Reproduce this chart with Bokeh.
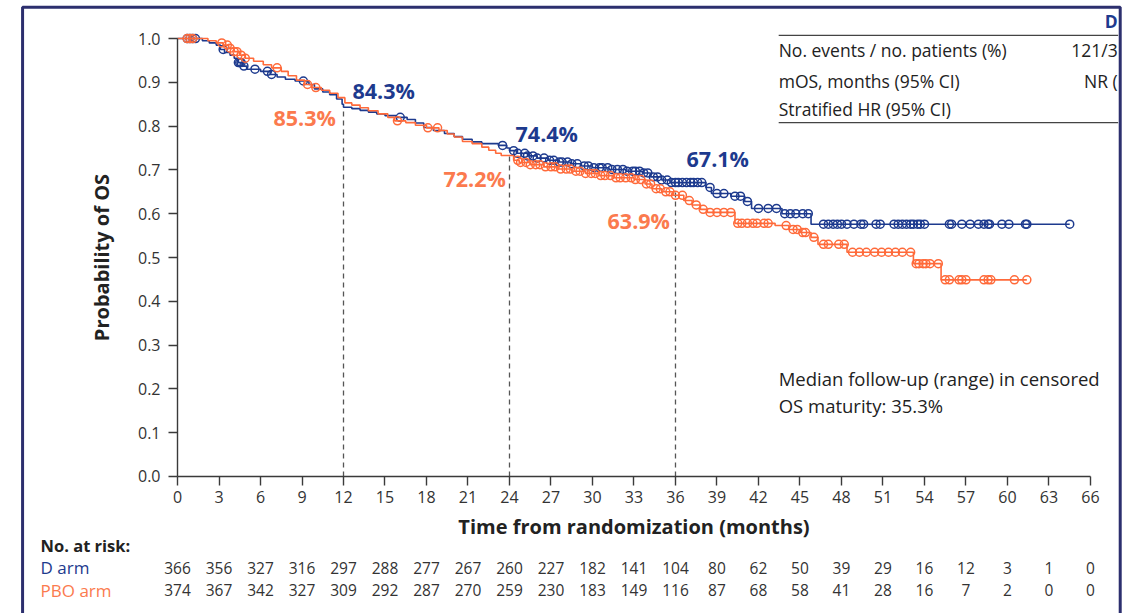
import numpy as np
from bokeh.plotting import figure
from bokeh.models import (ColumnDataSource, LabelSet, Label, FixedTicker,
                          PrintfTickFormatter, Arrow, BoxAnnotation)
from bokeh.core.properties import value
from bokeh.embed import file_html
from bokeh.resources import INLINE

# ---------------- data ----------------
d_step_t = [0, 1.8, 2.3, 2.8, 3.1, 3.4, 3.8, 4.1, 4.4, 4.7, 5.0, 6.0, 6.7, 7.2, 7.8, 8.5, 9.5, 9.9, 10.5, 11.0,
            11.5, 11.9, 12.0, 12.6, 13.2, 13.8, 14.4, 15.0, 15.8, 16.6, 17.2, 17.8, 18.5, 19.3, 20.0, 20.6, 21.3,
            22.0, 23.2, 23.8, 24.0, 24.5, 25.3, 26.0, 26.8, 27.6, 28.4, 29.2, 30.0, 31.2, 32.4, 33.6, 34.2, 35.0,
            35.6, 38.2, 38.6, 40.0, 41.0, 41.5, 43.7, 45.8]
d_step_s = [1.0, 0.995, 0.99, 0.985, 0.975, 0.968, 0.962, 0.955, 0.945, 0.937, 0.93, 0.925, 0.918, 0.912, 0.907,
            0.903, 0.895, 0.885, 0.878, 0.872, 0.862, 0.85, 0.843, 0.840, 0.836, 0.832, 0.828, 0.824, 0.820, 0.815,
            0.807, 0.797, 0.790, 0.783, 0.776, 0.770, 0.764, 0.760, 0.756, 0.750, 0.744, 0.738, 0.732, 0.727,
            0.722, 0.718, 0.714, 0.709, 0.705, 0.701, 0.697, 0.693, 0.684, 0.677, 0.671, 0.660, 0.646, 0.640,
            0.628, 0.612, 0.600, 0.576]
d_cens_t = [0.7, 0.9, 1.1, 1.3, 3.3, 4.4, 4.5, 4.6, 4.8, 5.6, 6.5, 6.8, 9.1, 16.1, 23.5, 24.3, 24.6, 25.1, 25.3,
            25.7, 26.0, 26.5, 26.9, 27.2, 27.6, 27.8, 28.2, 28.5, 28.9, 29.4, 29.7, 30.1, 30.5, 30.7, 31.1, 31.4,
            31.8, 32.2, 32.5, 32.9, 33.1, 33.4, 33.7, 34.0, 34.4, 34.7, 35.0, 35.4, 35.7, 36.0, 36.2, 36.5, 36.8,
            37.1, 37.3, 37.6, 37.9, 38.5, 39.0, 39.5, 40.3, 40.7, 41.2, 42.0, 42.7, 43.3, 43.9, 44.3, 44.7, 45.2,
            45.6, 46.7, 47.05, 47.4, 47.7, 48.0, 48.4, 48.9, 49.4, 49.6, 50.5, 50.8, 51.8, 52.1, 52.4, 52.7, 53.0,
            53.2, 53.5, 53.7, 54.0, 55.8, 55.96, 56.7, 57.3, 57.9, 58.3, 58.6, 58.7, 59.6, 60.1, 61.3, 61.4, 64.5]

p_step_t = [0, 2.2, 2.8, 3.3, 3.7, 4.1, 4.5, 4.9, 5.5, 6.2, 6.8, 7.5, 8.0, 8.6, 9.2, 9.7, 10.4, 11.0, 11.6, 12.1,
            12.6, 13.2, 13.8, 14.5, 15.2, 15.7, 16.5, 17.2, 18.0, 18.9, 19.5, 20.0, 20.6, 21.3, 22.0, 22.5, 23.0,
            23.4, 24.3, 24.7, 25.5, 26.5, 27.5, 28.5, 29.5, 30.5, 31.5, 33.0, 33.8, 34.3, 35.0, 35.8, 36.6, 37.2,
            37.8, 38.3, 40.3, 43.2, 44.2, 45.0, 45.8, 46.3, 48.4, 53.2, 55.2]
p_step_s = [1.0, 0.995, 0.99, 0.985, 0.978, 0.97, 0.962, 0.955, 0.948, 0.94, 0.933, 0.925, 0.915, 0.905, 0.895,
            0.888, 0.882, 0.875, 0.865, 0.853, 0.848, 0.842, 0.835, 0.828, 0.82, 0.812, 0.808, 0.802, 0.796, 0.79,
            0.782, 0.775, 0.765, 0.76, 0.752, 0.745, 0.738, 0.733, 0.722, 0.717, 0.712, 0.707, 0.702, 0.697,
            0.692, 0.687, 0.682, 0.678, 0.668, 0.657, 0.650, 0.642, 0.630, 0.620, 0.610, 0.603, 0.578, 0.573,
            0.564, 0.557, 0.546, 0.530, 0.512, 0.486, 0.449]
p_cens_t = [0.7, 0.9, 1.1, 3.2, 3.6, 3.8, 4.1, 4.3, 4.6, 4.9, 7.2, 9.4, 10.0, 15.9, 18.1, 18.8, 24.6, 24.8, 25.2,
            25.5, 25.9, 26.2, 26.6, 27.0, 27.3, 27.7, 28.1, 28.4, 28.8, 29.1, 29.5, 29.9, 30.2, 30.6, 30.9, 31.3,
            31.7, 32.0, 32.4, 32.8, 33.1, 33.5, 33.9, 34.2, 34.6, 34.9, 35.3, 35.6, 36.0, 36.5, 37.0, 37.5, 38.0,
            38.5, 39.0, 39.5, 40.0, 40.5, 40.8, 41.2, 41.6, 41.9, 42.4, 42.7, 44.0, 44.5, 44.8, 45.2, 45.4, 46.0,
            46.7, 47.05, 47.8, 48.2, 48.8, 49.3, 49.8, 50.4, 50.9, 51.4, 51.9, 52.4, 53.0, 53.4, 53.6, 53.9, 54.1,
            54.4, 55.0, 55.5, 55.8, 56.5, 56.7, 57.0, 58.3, 58.6, 58.8, 60.5, 61.4]

x_ticks = list(range(0, 67, 3))
y_ticks = [0.0, 0.1, 0.2, 0.3, 0.4, 0.5, 0.6, 0.7, 0.8, 0.9, 1.0]
d_at_risk = [366, 356, 327, 316, 297, 288, 277, 267, 260, 227, 182, 141, 104, 80, 62, 50, 39, 29, 16, 12, 3, 1, 0]
p_at_risk = [374, 367, 342, 327, 309, 292, 287, 270, 259, 230, 183, 149, 116, 87, 68, 58, 41, 28, 16, 7, 2, 0, 0]

landmark_t = [12, 24, 36]
d_landmark = ["84.3%", "74.4%", "67.1%"]
p_landmark = ["85.3%", "72.2%", "63.9%"]
dash_top = [0.838, 0.735, 0.655]

table_rows = ["No. events / no. patients (%)", "mOS, months (95% CI)", "Stratified HR (95% CI)"]
table_d = ["121/3", "NR (", ""]

NAVY = "#1d3a8e"
ORANGE = "#ff6a3a"
ORANGE_TXT = "#fb7a4e"
FRAME = "#2c2f6e"
TXT = "#333333"
FONT = "Open Sans"

# --------------- figure ---------------
# frame covers the whole canvas; axes are pinned at data 0 with fixed_location
p = figure(frame_width=1135, frame_height=613, min_border=0,
           x_range=(-12.796, 69.255), y_range=(-0.3128, 1.0868),
           output_backend="svg", toolbar_location=None)
p.xgrid.visible = False
p.ygrid.visible = False
p.outline_line_color = None
p.background_fill_color = "white"
p.border_fill_color = "white"

for ax in (p.xaxis[0], p.yaxis[0]):
    ax.fixed_location = 0
    ax.axis_line_color = "#3a3a3a"
    ax.axis_line_width = 1.4
    ax.major_tick_line_color = "#3a3a3a"
    ax.major_tick_line_width = 1.4
    ax.major_tick_out = 9
    ax.major_tick_in = 0
    ax.minor_tick_line_color = None
    ax.major_label_text_font = FONT
    ax.major_label_text_font_size = "16px"
    ax.major_label_text_color = TXT
    ax.axis_label_text_font = FONT
    ax.axis_label_text_font_style = "bold"
    ax.axis_label_text_font_size = "20px"
    ax.axis_label_text_color = "#222222"

p.xaxis.ticker = FixedTicker(ticks=x_ticks)
p.xaxis.bounds = (0, 66)
p.xaxis.major_label_standoff = 6
p.xaxis.axis_label = "Time from randomization (months)"
p.xaxis.axis_label_standoff = 6

p.yaxis.ticker = FixedTicker(ticks=y_ticks)
p.yaxis.formatter = PrintfTickFormatter(format="%.1f")
p.yaxis.bounds = (0, 1)
p.yaxis.major_label_standoff = 8
p.yaxis.axis_label = "Probability of OS"
p.yaxis.axis_label_standoff = 20

# landmark dashed lines
p.segment(x0=landmark_t, y0=[0, 0, 0], x1=landmark_t, y1=dash_top, line_color="#555555",
          line_width=1.3, line_dash="5 4")


def km(step_t, step_s, cens_t, color):
    st = np.array(step_t, dtype=float)
    ss = np.array(step_s, dtype=float)
    ct = np.array(cens_t, dtype=float)
    end = max(ct.max(), st.max())
    xs = np.append(st, end)
    ys = np.append(ss, ss[-1])
    p.step(xs, ys, mode="after", line_color=color, line_width=1.6)
    idx = np.searchsorted(st, ct, side="right") - 1
    p.scatter(ct, ss[idx], marker="circle", size=8, fill_color=None, line_color=color, line_width=1.5)


km(d_step_t, d_step_s, d_cens_t, NAVY)
km(p_step_t, p_step_s, p_cens_t, ORANGE)

# landmark labels
d_lab_x = [12.65, 24.44, 36.8]
d_lab_y = [0.881, 0.783, 0.726]
p_lab_x = [6.94, 19.23, 31.09]
p_lab_y = [0.820, 0.680, 0.584]
for x, y, t in zip(d_lab_x, d_lab_y, d_landmark):
    p.add_layout(Label(x=x, y=y, text=t, text_font=FONT, text_font_style="bold", text_font_size="21.5px",
                       text_color=NAVY, text_baseline="middle", text_align="left"))
for x, y, t in zip(p_lab_x, p_lab_y, p_landmark):
    p.add_layout(Label(x=x, y=y, text=t, text_font=FONT, text_font_style="bold", text_font_size="21.5px",
                       text_color=ORANGE_TXT, text_baseline="middle", text_align="left"))

# number at risk table
risk = ColumnDataSource(dict(x=x_ticks, d=[str(v) for v in d_at_risk], p=[str(v) for v in p_at_risk],
                             yd=[-0.208] * len(x_ticks), yp=[-0.260] * len(x_ticks)))
p.add_layout(LabelSet(x="x", y="yd", text="d", source=risk, text_align="center", text_baseline="middle",
                      text_font=value(FONT), text_font_size="15.5px", text_color=TXT))
p.add_layout(LabelSet(x="x", y="yp", text="p", source=risk, text_align="center", text_baseline="middle",
                      text_font=value(FONT), text_font_size="15.5px", text_color=TXT))
p.add_layout(Label(x=-9.9, y=-0.158, text="No. at risk:", text_font=FONT, text_font_style="bold",
                   text_font_size="16.5px", text_color="#222222", text_baseline="middle"))
p.add_layout(Label(x=-9.9, y=-0.208, text="D arm", text_font=FONT, text_font_size="17px",
                   text_color=NAVY, text_baseline="middle"))
p.add_layout(Label(x=-9.9, y=-0.260, text="PBO arm", text_font=FONT, text_font_size="17px",
                   text_color=ORANGE_TXT, text_baseline="middle"))

# summary table (top right)
row_y = [0.973, 0.904, 0.840]
for y, t, v in zip(row_y, table_rows, table_d):
    p.add_layout(Label(x=43.46, y=y, text=t, text_font=FONT, text_font_size="17.5px", text_color="#222222",
                       text_baseline="middle"))
    if v:
        p.add_layout(Label(x=67.97, y=y, text=v, text_font=FONT, text_font_size="17.5px", text_color="#222222",
                           text_baseline="middle", text_align="right"))
p.add_layout(Label(x=67.97, y=1.041, text="D", text_font=FONT, text_font_style="bold", text_font_size="17.5px",
                   text_color=NAVY, text_baseline="middle", text_align="right"))
for y in (1.007, 0.808):
    p.add_layout(Arrow(end=None, x_start=43.46, y_start=y, x_end=68.0, y_end=y, line_color="#444444",
                       line_width=1.3))

p.add_layout(Label(x=43.46, y=0.224, text="Median follow-up (range) in censored", text_font=FONT,
                   text_font_size="18.5px", text_color="#222222", text_baseline="middle"))
p.add_layout(Label(x=43.46, y=0.162, text="OS maturity: 35.3%", text_font=FONT,
                   text_font_size="18.5px", text_color="#222222", text_baseline="middle"))

# slide frame
p.add_layout(BoxAnnotation(left=-11.2, right=68.15, top=1.0715, bottom=-0.45, fill_alpha=0,
                           line_alpha=1.0, line_color=FRAME, line_width=3))

open("out.html", "w").write(file_html(p, INLINE))
